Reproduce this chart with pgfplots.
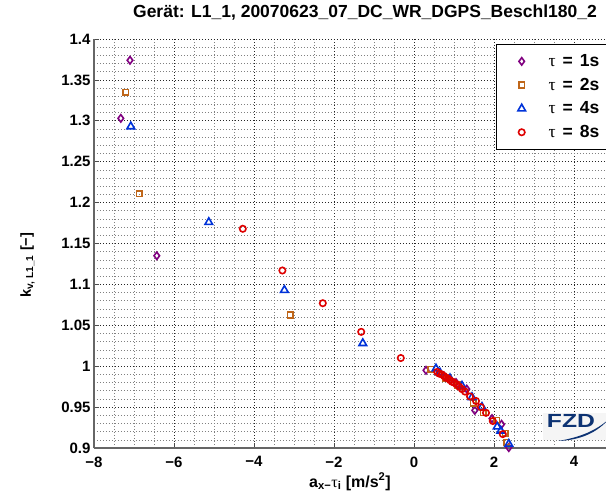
\documentclass[border=0pt]{standalone}
\usepackage{fontspec}
\setmainfont{Liberation Sans}
\newfontfamily\symf{Liberation Serif}
\usepackage{pgfplots}
\pgfplotsset{compat=1.18}
\usepackage{pgfplotstable}
\definecolor{cA}{rgb}{0.5,0,0.5}
\definecolor{cB}{rgb}{0.75,0.4,0.1}
\definecolor{cC}{rgb}{0,0.2,0.85}
\definecolor{cD}{rgb}{0.87,0,0}
\definecolor{fzd}{rgb}{0.05,0.2,0.45}

\pgfplotstableread{
x y
-7.10 1.374
-7.33 1.303
-6.43 1.135
0.30 0.995
0.75 0.988
1.05 0.980
1.32 0.972
1.52 0.946
1.95 0.936
2.19 0.929
2.37 0.9005
}\tauone

\pgfplotstableread{
x y
-7.21 1.335
-6.87 1.211
-3.09 1.0625
0.42 0.996
0.80 0.985
1.10 0.977
1.48 0.955
1.73 0.943
2.07 0.934
2.28 0.918
2.32 0.907
}\tautwo

\pgfplotstableread{
x y
-7.08 1.293
-5.13 1.176
-3.24 1.093
-1.28 1.028
0.55 0.997
0.65 0.992
0.90 0.985
1.20 0.976
1.45 0.962
1.70 0.950
2.08 0.926
2.17 0.921
2.37 0.905
}\taufour

\pgfplotstableread{
x y
-4.28 1.168
-3.29 1.117
-2.28 1.077
-1.32 1.042
-0.33 1.010
0.58 0.993
0.63 0.991
0.69 0.990
0.75 0.988
0.80 0.986
0.85 0.985
0.90 0.983
0.95 0.981
1.00 0.980
1.06 0.978
1.13 0.975
1.20 0.972
1.275 0.969
1.40 0.963
1.55 0.9575
1.67 0.950
1.80 0.943
1.97 0.933
2.22 0.917
}\taueight

\newcommand{\lentry}[1]{\makebox[70pt][l]{{\mdseries\symf τ}\hspace{7pt}=\hspace{7pt}#1}}

\begin{document}
\begin{tikzpicture}
\begin{axis}[
  at={(0pt,0pt)}, anchor=south west,
  scale only axis, width=540pt, height=409pt,
  xmin=-8, xmax=5.5, ymin=0.9, ymax=1.4,
  axis lines*=left,
  axis line style={line width=1.3pt, black!60},
  tick align=inside, major tick length=5pt, minor tick length=0pt,
  tick style={black!70, line width=0.8pt},
  xtick={-8,-6,-4,-2,0,2,4},
  xticklabels={−8,−6,−4,−2,0,2,4},
  ytick={0.9,0.95,1,1.05,1.1,1.15,1.2,1.25,1.3,1.35,1.4},
  yticklabels={0.9,0.95,1,1.05,1.1,1.15,1.2,1.25,1.3,1.35,1.4},
  minor x tick num=3, minor y tick num=4,
  grid=both,
  major grid style={dash pattern=on 0.7pt off 2.3pt, black!85, line width=0.7pt},
  minor grid style={dash pattern=on 0.6pt off 2.4pt, black!50, line width=0.6pt},
  ticklabel style={font=\fontsize{15}{18}\selectfont\bfseries},
  xticklabel style={yshift=-5pt},
  clip=false,
  legend style={at={(rel axis cs:0.7444,0.9878)}, anchor=north west,
    draw=black, line width=1.2pt, fill=white,
    font=\fontsize{17.5}{20}\selectfont\bfseries,
    inner xsep=16pt, inner ysep=8pt, row sep=6pt, column sep=10pt},
  legend cell align=left,
  legend image code/.code={\path (0cm,0cm) (0.8cm,0cm); \draw[#1] plot coordinates {(0.3cm,0cm)};},
]
\addplot[only marks, mark=diamond, mark size=3.7pt, mark options={draw=cA, fill=none, line width=1.6pt, solid}, color=cA] table[x=x,y=y] {\tauone};
\addlegendentry{\lentry{1s}}
\addplot[only marks, mark=square, mark size=2.8pt, mark options={draw=cB, fill=none, line width=1.6pt, solid}, color=cB] table[x=x,y=y] {\tautwo};
\addlegendentry{\lentry{2s}}
\addplot[only marks, mark=triangle, mark size=4.4pt, mark options={draw=cC, fill=none, line width=1.6pt, solid}, color=cC] table[x=x,y=y] {\taufour};
\addlegendentry{\lentry{4s}}
\addplot[only marks, mark=o, mark size=3.2pt, mark options={draw=cD, fill=none, line width=1.6pt, solid}, color=cD] table[x=x,y=y] {\taueight};
\addlegendentry{\lentry{8s}}
\end{axis}
% title and labels
\node[font=\fontsize{17.5}{20}\selectfont\bfseries, anchor=base] at (271pt,430.5pt)
  {Gerät: L1\_1, 20070623\_07\_DC\_WR\_DGPS\_Beschl180\_2};
\node[font=\fontsize{16}{18}\selectfont\bfseries, anchor=base] at (256pt,-39pt)
  {a\textsubscript{x−}{\mdseries\symf τ}\textsubscript{i} [m/s\textsuperscript{2}]};
\node[font=\fontsize{14.5}{18}\selectfont\bfseries, anchor=base, rotate=90] at (-63pt,183pt)
  {k\textsubscript{v, L1\_1} [−]};
% FZD logo
\fill[gray!8] (449pt,8pt) rectangle (520pt,35pt);
\node[font=\fontsize{19}{19}\selectfont\bfseries, text=fzd, anchor=base, inner sep=0pt] at (477pt,20pt) {\scalebox{1.3}[1]{FZD}};
\fill[fzd] (464pt,7pt) .. controls (488pt,8pt) and (503pt,16pt) .. (514pt,28pt)
  .. controls (502pt,18pt) and (488pt,11pt) .. (464pt,7pt) -- cycle;
\pgfresetboundingbox
\path[use as bounding box] (-94pt,-56pt) rectangle (512pt,448pt);
\end{tikzpicture}
\end{document}
